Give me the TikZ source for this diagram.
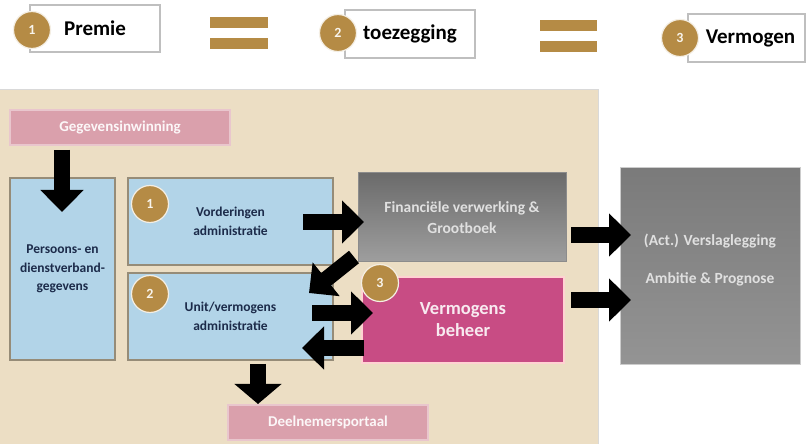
\documentclass[tikz,border=0pt]{standalone}
\usepackage{fontspec}
\setmainfont{Carlito}
\usetikzlibrary{arrows.meta}
\definecolor{beige}{RGB}{236,222,196}
\definecolor{gold}{RGB}{181,139,69}
\definecolor{lblue}{RGB}{178,212,232}
\definecolor{bborder}{RGB}{150,140,120}
\definecolor{pinkbox}{RGB}{218,160,172}
\definecolor{magbox}{RGB}{200,76,132}
\definecolor{navy}{RGB}{28,43,74}
\tikzset{
  numc/.style={circle, fill=gold, draw=white!85!gold, line width=1.2pt, minimum size=37pt, inner sep=0pt, text=white!90!gold, font=\bfseries\fontsize{14}{14}\selectfont},
  topbox/.style={rectangle, fill=white, draw=black!25, line width=1.5pt, font=\bfseries\fontsize{21}{21}\selectfont, text=black},
  bluebox/.style={rectangle, fill=lblue, draw=bborder, line width=1.5pt, align=center, font=\bfseries\fontsize{13.5}{18.5}\selectfont, text=navy},
  pinkb/.style={rectangle, fill=pinkbox, draw=pinkbox!60!white, line width=1.5pt, font=\bfseries\fontsize{15}{15}\selectfont, text=white!92!pinkbox},
  greytxt/.style={text=white!88!black, font=\bfseries\fontsize{15.5}{21}\selectfont, align=center},
  blk/.style={line width=16pt, -{Triangle[length=22pt,width=42pt]}, black},
  eqbar/.style={fill=gold, draw=none},
}
\begin{document}
\begin{tikzpicture}[x=1pt,y=-1pt]
\useasboundingbox (0,0) rectangle (809,446);
\fill[white] (0,0) rectangle (809,446);
% main background
\fill[beige] (0,90) rectangle (598,444);
\draw[black!15, line width=1pt] (0,90) -- (598,90) -- (598,444);

% top row
\node[topbox, minimum width=130pt, minimum height=47pt] (premie) at (95,28.5) {Premie};
\node[numc] (t1) at (32,30) {1};
\fill[eqbar] (210,17) rectangle (268,28);
\fill[eqbar] (210,38) rectangle (268,49);
\node[topbox, minimum width=130pt, minimum height=48pt] (toez) at (410,34) {toezegging};
\node[numc] (t2) at (338,33) {2};
\fill[eqbar] (540,20) rectangle (597,31);
\fill[eqbar] (540,41) rectangle (597,52);
\node[topbox, minimum width=117pt, minimum height=48pt] (verm0) at (746.5,38) {\hspace*{8pt}Vermogen};
\node[numc] (t3) at (680,38) {3};

% left column
\node[pinkb, minimum width=220pt, minimum height=35pt] (geg) at (120,127.5) {Gegevensinwinning};
\node[bluebox, minimum width=105pt, minimum height=182pt] (pers) at (62.5,269) {Persoons- en\\dienstverband-\\gegevens};
\node[bluebox, minimum width=205pt, minimum height=87pt] (vord) at (230.5,221.5) {Vorderingen\\administratie};
\node[bluebox, minimum width=205pt, minimum height=87pt] (unit) at (230.5,316.5) {Unit/vermogens\\administratie};
\node[numc] (c1) at (150,204) {1};
\node[numc] (c2) at (150,294) {2};

% middle
\node[rectangle, top color=black!58, bottom color=black!38, draw=black!45, line width=1pt,
      minimum width=208pt, minimum height=89pt, greytxt] (fin) at (462,217.5) {Financiële verwerking \&\\Grootboek};
\node[rectangle, fill=magbox, draw=pink!70!white, line width=1.5pt, minimum width=202pt, minimum height=86pt,
      align=center, text=white!88!magbox, font=\bfseries\fontsize{18.5}{22}\selectfont] (vb) at (463,320) {Vermogens\\beheer};
\node[numc] (c3) at (380,283) {3};

% right
\node[rectangle, top color=black!52, bottom color=black!42, draw=black!20, line width=1pt,
      minimum width=180pt, minimum height=197pt] (rep) at (710,266.5) {};
\node[greytxt] (rep1) at (710,241) {(Act.) Verslaglegging};
\node[greytxt] (rep2) at (710,279) {Ambitie \& Prognose};

% bottom
\node[pinkb, minimum width=200pt, minimum height=35pt] (deel) at (328,422.5) {Deelnemersportaal};

% arrow end points
\coordinate (a1s) at (62,150);  \coordinate (a1e) at (62,212);
\coordinate (a2s) at (303,222); \coordinate (a2e) at (364,222);
\coordinate (a3s) at (354,257); \coordinate (a3e) at (309,293);
\coordinate (a4s) at (312,313); \coordinate (a4e) at (373,313);
\coordinate (a5s) at (364,348); \coordinate (a5e) at (302,348);
\coordinate (a6s) at (571,235); \coordinate (a6e) at (631,235);
\coordinate (a7s) at (571,300); \coordinate (a7e) at (631,300);
\coordinate (a8s) at (258,364); \coordinate (a8e) at (258,404);

\draw[blk] (a1s) -- (a1e);
\draw[blk] (a2s) -- (a2e);
\draw[blk] (a3s) -- (a3e);
\draw[blk] (a4s) -- (a4e);
\draw[blk] (a5s) -- (a5e);
\draw[blk] (a6s) -- (a6e);
\draw[blk] (a7s) -- (a7e);
\draw[blk, -{Triangle[length=20pt,width=46pt]}] (a8s) -- (a8e);
\end{tikzpicture}
\end{document}
